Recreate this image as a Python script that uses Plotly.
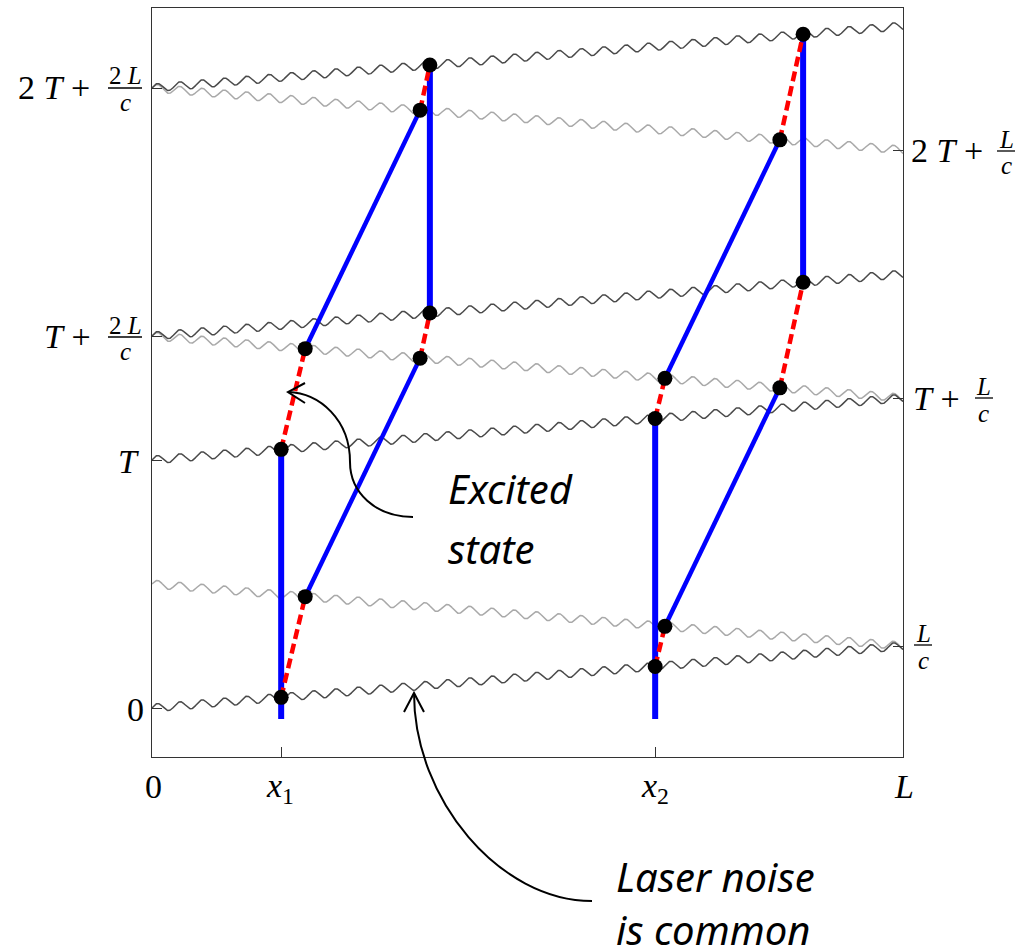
import numpy as np
import plotly.graph_objects as go

# ---------------- data (units: T = 1, L = 1) ----------------
T = 1.0
L_over_c = 0.25
x1, x2 = 0.172, 0.670

# laser pulses: dark ones leave x=0 going right, grey ones leave x=L going left
dark_ray_starts = [0.0, 1.0, 1.5, 2.5]
gray_ray_starts = [0.25, 1.25, 2.25]

# x positions where atoms are hit (un-kicked, after 1st kick, turn, final)
atom1_x = [x1, 0.204, 0.357, 0.370]
atom2_x = [x2, 0.683, 0.836, 0.867]
atom_start_t = -0.044

left_tickvals = [0.0, T, T + 2 * L_over_c, 2 * T + 2 * L_over_c]
right_tickvals = [L_over_c, T + L_over_c, 2 * T + L_over_c]
bottom_tickvals = [x1, x2]

# ---------------- style ----------------
W, H = 1023, 949
ML, MR, MT, MB = 152, 120, 8, 192
PW, PH = W - ML - MR, H - MT - MB
Y0, Y1 = -0.1976, 2.8226
WAVE_AMP = 0.016
WAVE_LEN = 0.0297


def t_dark(k, x):
    return dark_ray_starts[k] + x * L_over_c


def t_gray(k, x):
    return gray_ray_starts[k] + (1 - x) * L_over_c


fig = go.Figure()

# wavy laser rays
xs = np.linspace(0, 1, 2500)
wig = WAVE_AMP * np.sin(2 * np.pi * xs / WAVE_LEN)
for k in range(len(gray_ray_starts)):
    fig.add_trace(go.Scatter(x=xs, y=t_gray(k, xs) + wig, mode="lines",
                             line=dict(color="#a9a9a9", width=1.5),
                             hoverinfo="skip", showlegend=False))
for k in range(len(dark_ray_starts)):
    fig.add_trace(go.Scatter(x=xs, y=t_dark(k, xs) + wig, mode="lines",
                             line=dict(color="#4a4a4a", width=1.5),
                             hoverinfo="skip", showlegend=False))

vert_x, vert_y, diag_x, diag_y, red_x, red_y, dot_x, dot_y = ([] for _ in range(8))
for ax in (atom1_x, atom2_x):
    p = [(ax[0], t_dark(0, ax[0])), (ax[1], t_gray(0, ax[1])),
         (ax[2], t_gray(1, ax[2])), (ax[3], t_dark(2, ax[3]))]
    q = [(ax[0], t_dark(1, ax[0])), (ax[1], t_gray(1, ax[1])),
         (ax[2], t_gray(2, ax[2])), (ax[3], t_dark(3, ax[3]))]
    # vertical (resting) segments
    for a, b in [((ax[0], atom_start_t), q[0]), (p[3], q[3])]:
        vert_x += [a[0], b[0], None]
        vert_y += [a[1], b[1], None]
    # moving ground-state segments
    for a, b in [(p[1], p[2]), (q[1], q[2])]:
        diag_x += [a[0], b[0], None]
        diag_y += [a[1], b[1], None]
    # excited-state segments
    for a, b in [(p[0], p[1]), (p[2], p[3]), (q[0], q[1]), (q[2], q[3])]:
        red_x += [a[0], b[0], None]
        red_y += [a[1], b[1], None]
    for pt in p + q:
        dot_x.append(pt[0])
        dot_y.append(pt[1])

fig.add_trace(go.Scatter(x=vert_x, y=vert_y, mode="lines",
                         line=dict(color="#0000ff", width=6),
                         hoverinfo="skip", showlegend=False))
fig.add_trace(go.Scatter(x=diag_x, y=diag_y, mode="lines",
                         line=dict(color="#0000ff", width=4.5),
                         hoverinfo="skip", showlegend=False))
fig.add_trace(go.Scatter(x=red_x, y=red_y, mode="lines",
                         line=dict(color="#ff0000", width=4.5, dash="10px,5px"),
                         hoverinfo="skip", showlegend=False))
fig.add_trace(go.Scatter(x=dot_x, y=dot_y, mode="markers",
                         marker=dict(color="black", size=15),
                         hoverinfo="skip", showlegend=False))
# invisible trace to activate right axis
fig.add_trace(go.Scatter(x=[0], y=[0], yaxis="y2", mode="markers",
                         marker=dict(opacity=0), hoverinfo="skip", showlegend=False))


# ---------------- helpers for pixel-placed decorations ----------------
def xp(px):
    return (px - ML) / PW


def yp(py):
    return (MT + PH - py) / PH


SERIF = "Liberation Serif"
annotations = []
shapes = []


def ann(px, py, text, size, xanchor="center", family=SERIF):
    annotations.append(dict(x=xp(px), y=yp(py), xref="paper", yref="paper",
                            text=text, showarrow=False, xanchor=xanchor,
                            yanchor="middle",
                            font=dict(family=family, size=size, color="black")))


def frac(cx, bar_y, num, half_w, size=25):
    ann(cx, bar_y - 12, num, size)
    ann(cx, bar_y + 15, "<i>c</i>", size)
    shapes.append(dict(type="line", xref="paper", yref="paper",
                       x0=xp(cx - half_w), x1=xp(cx + half_w),
                       y0=yp(bar_y), y1=yp(bar_y),
                       line=dict(color="black", width=1.3)))


MAIN = 34
# left labels
ann(146, 709, "0", MAIN, "right")
ann(141, 462, "<i>T</i>", MAIN, "right")
ann(101, 336, "<i>T</i> + ", MAIN, "right")
frac(125, 337, "2 <i>L</i>", 17)
ann(101, 88, "2 <i>T</i> + ", MAIN, "right")
frac(125, 88, "2 <i>L</i>", 17)
# right labels
ann(909, 151, "2 <i>T</i> + ", MAIN, "left")
frac(1006, 151, "<i>L</i>", 9)
ann(911, 398, "<i>T</i> + ", MAIN, "left")
frac(984, 398, "<i>L</i>", 9)
frac(923, 645, "<i>L</i>", 9)
# bottom labels
ann(153, 786, "0", MAIN)
ann(280, 788, "<i>x</i><sub>1</sub>", MAIN)
ann(655, 788, "<i>x</i><sub>2</sub>", MAIN)
ann(904, 786, "<i>L</i>", MAIN)

# callout texts
SANS = "Noto Sans"
ann(446, 488, "<i>Excited</i>", 40, "left", SANS)
ann(446, 548, "<i>state</i>", 40, "left", SANS)
ann(614, 877, "<i>Laser noise</i>", 40, "left", SANS)
ann(614, 929, "<i>is common</i>", 40, "left", SANS)


def path(cmds):
    out = []
    for c in cmds:
        if isinstance(c, str):
            out.append(c)
        else:
            out.append(f"{xp(c[0]):.5f},{yp(c[1]):.5f}")
    return " ".join(out)


arrow_line = dict(color="black", width=2)
shapes.append(dict(type="path", xref="paper", yref="paper", layer="above",
                   path=path(["M", (413, 517), "C", (375, 517), (350, 492), (350, 462),
                              "C", (350, 420), (320, 393), (288, 392)]),
                   line=arrow_line))
shapes.append(dict(type="path", xref="paper", yref="paper", layer="above",
                   path=path(["M", (305, 383), "L", (288, 392), "L", (305, 403)]),
                   line=arrow_line))
shapes.append(dict(type="path", xref="paper", yref="paper", layer="above",
                   path=path(["M", (592, 901), "C", (500, 901), (414, 800), (414, 693)]),
                   line=arrow_line))
shapes.append(dict(type="path", xref="paper", yref="paper", layer="above",
                   path=path(["M", (404, 712), "L", (414, 693), "L", (424, 712)]),
                   line=arrow_line))

axis_common = dict(showgrid=False, zeroline=False, showline=True,
                   linecolor="#333333", linewidth=1.3, ticks="inside",
                   ticklen=10, tickwidth=1.2, tickcolor="#333333",
                   showticklabels=False)

fig.update_layout(
    width=W, height=H,
    margin=dict(l=ML, r=MR, t=MT, b=MB, pad=0),
    paper_bgcolor="white", plot_bgcolor="white",
    xaxis=dict(range=[0, 1], tickvals=bottom_tickvals, mirror=True, **axis_common),
    yaxis=dict(range=[Y0, Y1], tickvals=left_tickvals, mirror=True, **axis_common),
    yaxis2=dict(range=[Y0, Y1], tickvals=right_tickvals, overlaying="y",
                side="right", **axis_common),
    annotations=annotations,
    shapes=shapes,
    showlegend=False,
)

fig.write_html("out.html")
